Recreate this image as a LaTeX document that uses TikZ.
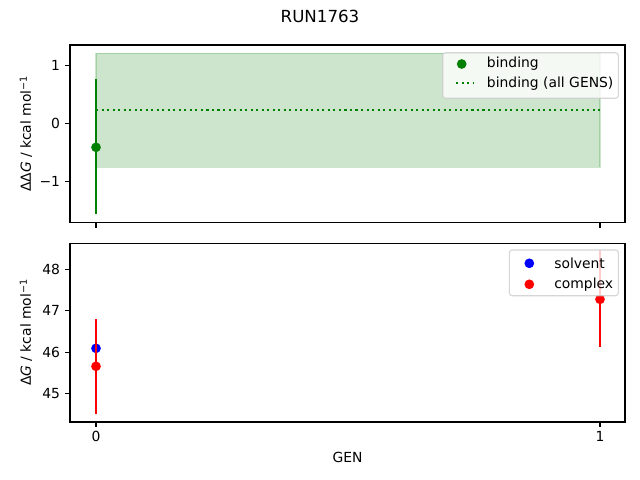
\documentclass[tikz,border=0pt]{standalone}
\usepackage{fontspec}
\setmainfont{DejaVu Sans}
\definecolor{mplgreen}{RGB}{0,128,0}
\definecolor{mplblue}{RGB}{0,0,255}
\definecolor{mplred}{RGB}{255,0,0}
\definecolor{legedge}{RGB}{204,204,204}
\begin{document}
\begin{tikzpicture}[x=0.72pt,y=-0.72pt,
  spine/.style={line width=0.8pt,black},
  tickmark/.style={line width=0.8pt,black},
  ticklab/.style={font=\fontsize{10}{12}\selectfont,inner sep=0pt},
  errbar/.style={line width=1.5pt},
  dot/.style={radius=3.5pt},
  legbox/.style={draw=legedge,fill=white,fill opacity=0.8,draw opacity=0.8,rounded corners=2pt,line width=0.8pt},
  txt/.style={font=\fontsize{10}{12}\selectfont,inner sep=0pt}]
\useasboundingbox (0,0) rectangle (640,480);
\fill[white] (0,0) rectangle (640,480);
% title
\node[font=\fontsize{12}{14}\selectfont,inner sep=0pt] (title) at (320,16) {RUN1763};
% ===== top axes =====
\fill[mplgreen,fill opacity=0.2] (96,53.3) rectangle (600,167.3);
\draw[mplgreen,opacity=0.2,line width=1pt] (96,53.3) rectangle (600,167.3);
\draw[mplgreen,line width=1.5pt,dash pattern=on 1.5pt off 2.475pt] (96,110) -- (600,110);
\draw[mplgreen,errbar] (96,79.3) -- (96,214.3);
\fill[mplgreen] (96,147.3) circle[dot];
% spines
\draw[spine] (70,45) rectangle (625,222.7);
% y ticks
\foreach \y/\l in {65.5/1,123.3/0,181.1/−1}{
  \draw[tickmark] (70,\y) -- (65.1,\y);
  \node[ticklab,anchor=east] at (60.3,\y) {\l};
}
\foreach \x in {96,600}{\draw[tickmark] (\x,222.7) -- (\x,227.6);}
\node[txt,rotate=90] (ylab1) at (26,134) {ΔΔ\textit{G} / kcal mol\raisebox{0.55ex}{\fontsize{7}{8}\selectfont −1}};
% legend top
\draw[legbox] (442.7,52.7) rectangle (618.3,98.3);
\fill[mplgreen] (461.7,64) circle[dot];
\draw[mplgreen,line width=1.5pt,dash pattern=on 1.5pt off 2.475pt] (456,83.3) -- (473,83.3);
\node[txt,anchor=west] (lb1) at (486.7,64) {binding};
\node[txt,anchor=west] (lb2) at (486.7,83.3) {binding (all GENS)};
% ===== bottom axes =====
\fill[mplblue] (96,348.3) circle[dot];
\draw[mplred,errbar] (96,319) -- (96,413.7);
\fill[mplred] (96,366.3) circle[dot];
\draw[mplred,errbar] (600,250) -- (600,346.7);
\fill[mplred] (600,299.3) circle[dot];
\draw[spine] (70,243.3) rectangle (625,422);
\foreach \y/\l in {269.4/48,310.8/47,352.3/46,393.7/45}{
  \draw[tickmark] (70,\y) -- (65.1,\y);
  \node[ticklab,anchor=east] at (60.3,\y) {\l};
}
\foreach \x/\l in {96/0,600/1}{
  \draw[tickmark] (\x,422) -- (\x,426.9);
  \node[ticklab,anchor=north] at (\x,431) {\l};
}
\node[txt,rotate=90] (ylab2) at (26,332.6) {Δ\textit{G} / kcal mol\raisebox{0.55ex}{\fontsize{7}{8}\selectfont −1}};
\node[txt] (xlab) at (347.5,457) {GEN};
% legend bottom
\draw[legbox] (509.3,250) rectangle (618.3,295.7);
\fill[mplblue] (529.3,263.3) circle[dot];
\fill[mplred] (529.3,284.3) circle[dot];
\node[txt,anchor=west] (ls1) at (554,263.3) {solvent};
\node[txt,anchor=west] (ls2) at (554,284.3) {complex};
\end{tikzpicture}
\end{document}
